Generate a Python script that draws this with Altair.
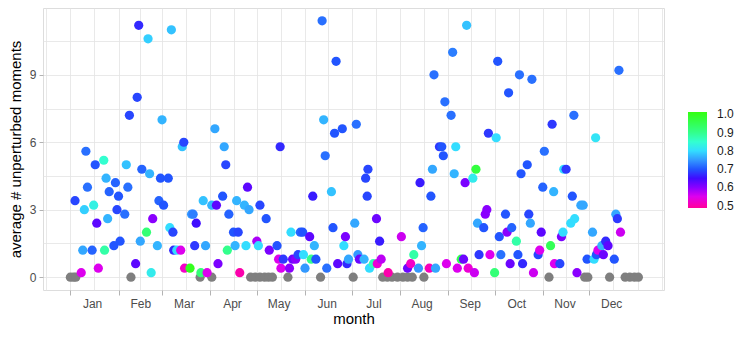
import altair as alt
import pandas as pd

# ---- data (day of year, average, fraction) ----
day = [4, 8, 9, 10, 11, 12, 15, 16, 17, 18, 19, 22.5, 23, 24, 25, 26, 29, 30, 31, 32,
       33, 36, 37, 38, 39, 43, 44, 45, 46, 47, 50, 51, 52, 53, 54, 57, 58, 59, 60, 61,
       64, 65, 66, 67, 67.5, 69.5, 72, 73, 74, 74.5, 78, 79, 80, 81, 82, 85, 86.5, 88, 89, 92,
       94, 95, 96, 99, 100, 101, 102, 103, 106, 107, 108, 109, 110, 113, 114, 115, 116, 121, 122, 123,
       127, 129, 134, 135, 136, 136.5, 138, 142, 143, 144, 146, 147.5, 149, 150.5, 151, 152, 155, 156, 157, 158,
       159, 163, 164, 165, 166, 169, 170, 171, 172, 173, 176, 177, 178, 179, 180, 184, 185, 186, 187, 190,
       191, 192, 192.5, 193.5, 196, 198, 198.5, 200, 201, 205.5, 214, 218, 220, 222, 225, 226, 227, 228, 232, 233,
       234, 235, 236, 238.5, 240, 241, 242, 243, 246, 247, 248, 249, 250, 252.5, 254, 255, 256, 257, 260, 261,
       262, 263, 264, 267, 268, 269, 270, 271, 274, 275, 276, 277, 278, 281, 282, 283, 284, 285, 288, 289,
       290, 291, 292, 295, 296, 297, 298, 299, 302, 303, 304, 305, 306, 310, 311, 312, 312.5, 316, 317, 318,
       318.5, 320, 323, 324, 325, 325.5, 327, 329.5, 331, 333.5, 337, 338, 339, 339.5, 340.5, 343, 344, 345.5, 347, 351,
       352, 353, 354, 355]
avg = [3.4, 0.2, 1.2, 3.0, 5.6, 4.0, 1.2, 3.2, 5.0, 2.4, 0.4, 5.2, 1.2, 4.4, 2.6, 3.8, 1.4, 4.2, 3.0, 3.6,
       1.6, 2.8, 5.0, 4.0, 7.2, 0.6, 8.0, 11.2, 1.6, 4.8, 2.0, 10.6, 4.6, 0.2, 2.6, 1.4, 3.4, 4.4, 7.0, 3.2,
       4.4, 2.2, 11.0, 2.0, 1.2, 1.2, 1.2, 5.8, 6.0, 0.4, 0.4, 2.8, 2.8, 1.4, 2.4, 0.2, 3.4, 1.4, 0.2, 3.2,
       6.6, 3.2, 0.6, 3.6, 5.8, 5.0, 1.2, 2.8, 2.0, 1.4, 3.4, 2.0, 0.2, 3.2, 1.4, 4.0, 3.0, 1.6, 1.4, 3.2,
       2.6, 1.2, 1.4, 0.8, 5.8, 0.4, 0.8, 0.4, 2.0, 0.8, 0.8, 1.0, 2.0, 2.0, 1.0, 0.4, 1.8, 0.8, 3.6, 1.4,
       0.8, 11.4, 7.0, 5.4, 0.4, 3.8, 2.2, 6.4, 9.6, 0.6, 6.6, 1.4, 1.8, 0.6, 0.8, 2.4, 6.8, 1.0, 0.8, 0.8,
       4.4, 3.6, 4.8, 0.4, 0.6, 2.6, 0.6, 1.6, 0.8, 0.2, 1.8, 0.4, 0.6, 1.0, 0.4, 4.2, 1.4, 2.2, 0.4, 3.6,
       4.8, 9.0, 0.4, 5.8, 5.8, 5.4, 7.8, 0.6, 7.2, 10.0, 4.6, 5.8, 0.4, 0.8, 0.8, 4.2, 11.2, 0.4, 4.4, 0.2,
       4.8, 2.4, 1.0, 2.2, 2.8, 3.0, 6.4, 1.0, 0.2, 6.2, 9.6, 1.8, 1.0, 2.8, 2.0, 8.2, 0.6, 2.2, 1.6, 1.0,
       9.0, 4.6, 0.6, 5.0, 2.8, 2.4, 8.8, 0.2, 1.0, 1.2, 2.0, 4.0, 5.6, 1.4, 6.8, 3.8, 0.6, 0.6, 1.8, 2.0,
       4.8, 4.8, 2.4, 3.6, 7.2, 2.6, 0.2, 3.2, 3.2, 0.8, 2.0, 0.8, 6.2, 1.0, 1.2, 1.4, 1.0, 1.6, 1.4, 0.8,
       2.8, 2.6, 9.2, 2.0]
frac = [0.69, 0.55, 0.76, 0.79, 0.72, 0.72, 0.71, 0.83, 0.70, 0.63, 0.55, 0.85, 0.88, 0.77, 0.77, 0.71, 0.70, 0.71, 0.69, 0.70,
        0.70, 0.72, 0.78, 0.72, 0.69, 0.63, 0.69, 0.67, 0.76, 0.71, 0.92, 0.79, 0.77, 0.82, 0.60, 0.77, 0.71, 0.70, 0.77, 0.70,
        0.70, 0.80, 0.78, 0.69, 0.67, 0.80, 0.55, 0.78, 0.69, 0.52, 1.00, 0.75, 0.73, 0.68, 0.65, 0.92, 0.78, 0.76, 0.55, 0.77,
        0.76, 0.63, 0.61, 0.70, 0.76, 0.69, 0.90, 0.71, 0.70, 0.77, 0.77, 0.69, 0.50, 0.77, 0.80, 0.63, 0.76, 0.58, 0.80, 0.69,
        0.70, 0.61, 0.70, 0.55, 0.67, 0.55, 0.68, 0.60, 0.80, 0.62, 0.60, 0.69, 0.71, 0.70, 0.80, 0.75, 0.63, 0.90, 0.66, 0.77,
        0.70, 0.72, 0.77, 0.72, 0.72, 0.78, 0.70, 0.70, 0.70, 0.63, 0.70, 0.80, 0.61, 0.67, 0.76, 0.76, 0.72, 0.75, 0.62, 0.77,
        0.69, 0.69, 0.69, 0.80, 0.87, 0.62, 0.53, 0.66, 0.57, 0.50, 0.56, 0.62, 0.52, 0.88, 0.75, 0.66, 0.77, 0.71, 0.51, 0.70,
        0.76, 0.72, 0.76, 0.68, 0.70, 0.70, 0.72, 0.55, 0.72, 0.73, 0.77, 0.80, 0.55, 0.95, 0.62, 0.61, 0.78, 0.53, 0.82, 0.56,
        0.97, 0.76, 0.68, 0.70, 0.60, 0.60, 0.68, 0.55, 0.92, 0.80, 0.70, 0.70, 0.72, 0.70, 0.60, 0.70, 0.62, 0.71, 0.88, 0.70,
        0.72, 0.70, 0.67, 0.70, 0.69, 0.76, 0.72, 0.56, 0.69, 0.55, 0.63, 0.71, 0.72, 0.95, 0.68, 0.77, 0.55, 0.69, 0.61, 0.80,
        0.80, 0.68, 0.80, 0.70, 0.72, 0.80, 0.60, 0.76, 0.76, 0.70, 0.76, 0.80, 0.81, 0.70, 0.55, 0.77, 0.62, 0.67, 0.63, 0.70,
        0.76, 0.68, 0.72, 0.56]

# days with no fraction (drawn grey)
na_day = [1, 3, 4.5, 40, 84.5, 92, 117, 120, 123, 126, 128.5, 131, 141, 162, 183,
          202, 205, 208, 211.5, 215, 218, 221, 228.5, 309, 332, 334, 348, 358, 361, 364, 366.5]
na_avg = [0, 0, 0, 0, 0, 0, 0, 0, 0, 0, 0, 0, 0, 0, 0,
          0, 0, 0, 0, 0, 0, 0, 0, 0, 0, 0, 0, 0, 0, 0, 0]

# axis breaks
month_names = ["Jan", "Feb", "Mar", "Apr", "May", "Jun", "Jul", "Aug", "Sep", "Oct", "Nov", "Dec"]
month_start = [1, 32, 60, 91, 121, 152, 182, 213, 244, 274, 305, 335]
month_label_day = [15, 46, 74, 105, 135, 166, 196, 227, 258, 288, 319, 349]
x_grid = [-14.5, 1, 16.5, 32, 46, 60, 75.5, 91, 106, 121, 136.5, 152, 167, 182, 197.5,
          213, 228.5, 244, 259, 274, 289.5, 305, 320, 335, 350.5, 366, 381.5]
y_grid = [0, 1.5, 3, 4.5, 6, 7.5, 9, 10.5]
y_major = [0, 3, 6, 9]

# colour scale stops
c_dom = [0.487, 0.52, 0.55, 0.6, 0.65, 0.7, 0.75, 0.8, 0.85, 0.9, 1.013]
c_rng = ["#FF0099", "#F400C8", "#DD00EE", "#8A00FF", "#3F0CFF", "#2255FF",
         "#3399FF", "#33DDFF", "#33FFD0", "#33FF8C", "#33FF10"]
legend_vals = [0.5, 0.6, 0.7, 0.8, 0.9, 1.0]

df = pd.DataFrame({"day": day, "avg": avg, "frac": frac})
dna = pd.DataFrame({"day": na_day, "avg": na_avg})

FONT = "Liberation Sans"

x_values = sorted(set(x_grid) | set(month_label_day))
x_label_expr = " : ".join(f"datum.value == {m} ? '{n}'" for m, n in zip(month_label_day, month_names)) + " : ''"
x_tick_test = " || ".join(f"datum.value == {s}" for s in month_start)
x_grid_test = " || ".join(f"datum.value == {g}" for g in x_grid)
y_tick_test = " || ".join(f"datum.value == {s}" for s in y_major)

x_enc = alt.X(
    "day:Q",
    scale=alt.Scale(domain=[-16.6, 383], nice=False, zero=False),
    axis=alt.Axis(
        values=x_values, labelExpr=x_label_expr, title="month",
        grid=True, gridColor="#e3e3e3", gridWidth=0.8,
        gridOpacity={"condition": {"test": x_grid_test, "value": 1}, "value": 0},
        domain=False, ticks=True, tickSize=5, tickColor="#b3b3b3", tickWidth=1,
        tickOpacity={"condition": {"test": x_tick_test, "value": 1}, "value": 0},
        labelColor="#4d4d4d", labelFontSize=12, labelFont=FONT, labelPadding=3,
        labelOverlap=False, labelFlush=False,
        titleFont=FONT, titleFontSize=15, titleFontWeight="normal", titleColor="#000000",
        titlePadding=2,
    ),
)
y_enc = alt.Y(
    "avg:Q",
    scale=alt.Scale(domain=[-0.57, 11.97], nice=False, zero=False),
    axis=alt.Axis(
        values=y_grid, labelExpr=f"{y_tick_test} ? format(datum.value, 'd') : ''",
        title="average # unperturbed moments",
        grid=True, gridColor="#e3e3e3", gridWidth=0.8,
        domain=False, ticks=True, tickSize=4, tickColor="#b3b3b3", tickWidth=1,
        tickOpacity={"condition": {"test": y_tick_test, "value": 1}, "value": 0},
        labelColor="#4d4d4d", labelFontSize=12, labelFont=FONT, labelPadding=3,
        labelOverlap=False, labelFlush=False,
        titleFont=FONT, titleFontSize=15, titleFontWeight="normal", titleColor="#000000",
        titlePadding=6,
    ),
)

grey = alt.Chart(dna).mark_circle(size=85, opacity=1, color="#7f7f7f").encode(x=x_enc, y=y_enc)

pts = alt.Chart(df).mark_circle(size=85, opacity=1).encode(
    x=x_enc,
    y=y_enc,
    color=alt.Color(
        "frac:Q",
        scale=alt.Scale(domain=c_dom, range=c_rng, interpolate="rgb"),
        legend=alt.Legend(
            title=None, orient="none", legendX=645, legendY=104,
            direction="vertical", gradientLength=96, gradientThickness=19,
            gradientStrokeWidth=0, values=legend_vals, format=".1f",
            labelFont=FONT, labelFontSize=12, labelColor="#1a1a1a", labelOffset=10,
            labelOverlap=False,
        ),
    ),
)

chart = (
    alt.layer(grey, pts)
    .properties(width=621, height=282,
                padding={"left": 0, "top": 0, "right": 0, "bottom": 0})
    .configure_view(stroke="#b3b3b3", strokeWidth=1)
    .configure_axis(titleFontWeight="normal")
    .configure(font=FONT)
)

chart.save("out.html", embed_options={"renderer": "svg", "actions": False})
